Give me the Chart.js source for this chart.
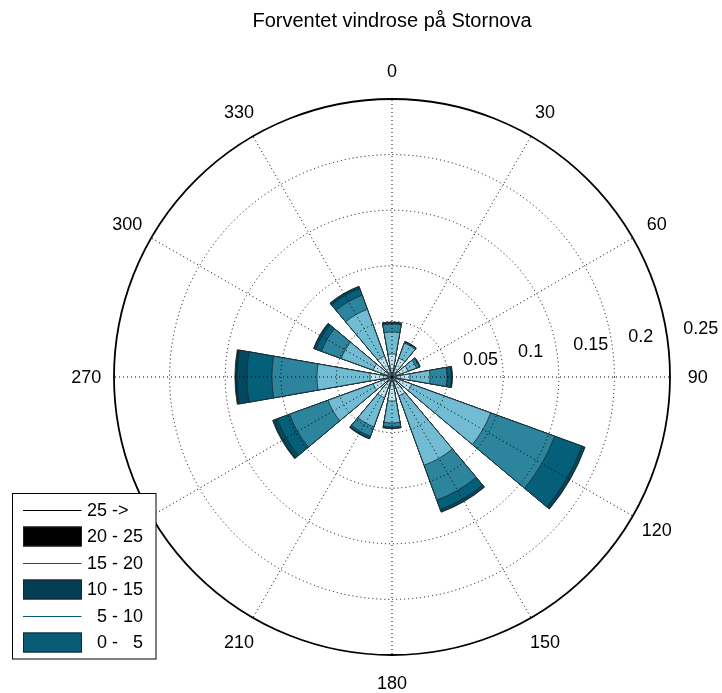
<!DOCTYPE html>
<html>
<head>
<meta charset="utf-8">
<title>Forventet vindrose på Stornova</title>
<script src="https://cdn.jsdelivr.net/npm/chart.js@4/dist/chart.umd.min.js"></script>
<style>
  html, body { margin: 0; padding: 0; background: #fff; }
  #wrap { width: 722px; height: 693px; position: relative; }
</style>
</head>
<body>
<div id="wrap"><canvas id="rose"></canvas></div>
<script>
'use strict';

// ── Data (frequency per direction, one array per speed bin) ──────────────
const directions = ['0', '30', '60', '90', '120', '150', '180', '210', '240', '270', '300', '330'];
const speedBins = ['0 - 5', '5 - 10', '10 - 15', '15 - 20', '20 - 25', '25 ->'];

const bin0to5   = [0.0207, 0.0180, 0.0153, 0.0162, 0.0189, 0.0180, 0.0216, 0.0198, 0.0180, 0.0198, 0.0180, 0.0198];
const bin5to10  = [0.0198, 0.0144, 0.0081, 0.0180, 0.0755, 0.0665, 0.0198, 0.0279, 0.0432, 0.0477, 0.0306, 0.0450];
const bin10to15 = [0.0072, 0.0009, 0.0027, 0.0153, 0.0612, 0.0333, 0.0036, 0.0090, 0.0369, 0.0405, 0.0189, 0.0135];
const bin15to20 = [0.0009, 0.0003, 0.0004, 0.0036, 0.0261, 0.0090, 0.0009, 0.0018, 0.0117, 0.0225, 0.0054, 0.0063];
const bin20to25 = [0.0004, 0.0002, 0.0002, 0.0009, 0.0027, 0.0022, 0.0003, 0.0004, 0.0036, 0.0090, 0.0018, 0.0018];
const bin25up   = [0.0004, 0.0002, 0.0003, 0.0004, 0.0004, 0.0004, 0.0002, 0.0004, 0.0009, 0.0018, 0.0004, 0.0004];

const radialTicks = [0.05, 0.1, 0.15, 0.2, 0.25];
const radialTickLabels = ['0.05', '0.1', '0.15', '0.2', '0.25'];

// legend entries, top to bottom (as in the original figure)
const legendLabels = ['25 ->', '20 - 25', '15 - 20', '10 - 15', '  5 - 10', '  0 -   5'];

// ── Styles ───────────────────────────────────────────────────────────────
const FONT = '"Liberation Sans", Arial, Helvetica, sans-serif';
const binColors = ['#bfe5ef', '#72bcd3', '#2d849d', '#055f79', '#03485e', '#022c3a'];
const legendSwatches = [
  { kind: 'line', color: '#000000' },
  { kind: 'box', color: '#000000' },
  { kind: 'line', color: '#0b5a74' },
  { kind: 'box', color: '#033e54' },
  { kind: 'line', color: '#0b5a74' },
  { kind: 'box', color: '#0a5b76' },
];
const BAR_WIDTH = 20;   // degrees
const GAP_WIDTH = 10;

// stack the bins: each dataset is the cumulative radius up to that bin
const bins = [bin0to5, bin5to10, bin10to15, bin15to20, bin20to25, bin25up];
const cumulative = bins.map((_, b) =>
  directions.map((_, d) => bins.slice(0, b + 1).reduce((s, arr) => s + arr[d], 0)));

// one leading negative slot so that bars are centred on their direction,
// then bar / gap / bar / gap ...
function expand(values) {
  const out = [0];
  values.forEach((v, i) => {
    out.push(v);
    if (i < values.length - 1) out.push(0);
  });
  return out;
}
const slotAngles = [-BAR_WIDTH / 2];
directions.forEach((_, i) => {
  slotAngles.push(BAR_WIDTH);
  if (i < directions.length - 1) slotAngles.push(GAP_WIDTH);
});
const isBar = i => i > 0 && i % 2 === 1;

const datasets = cumulative.map((vals, b) => ({
  label: speedBins[b],
  data: expand(vals),
  backgroundColor: binColors[b],
  borderColor: '#1b2a30',
  borderWidth: c => (isBar(c.dataIndex) ? 0.8 : 0),
  angle: c => slotAngles[c.dataIndex],
}));

// ── Plugins: direction labels, tick labels at ~82°, boxed legend ────────
const polarTextPlugin = {
  id: 'polarText',
  afterDraw(chart) {
    const s = chart.scales.r;
    const ctx = chart.ctx;
    ctx.save();
    ctx.font = '18px ' + FONT;
    ctx.fillStyle = '#000';
    ctx.textBaseline = 'middle';

    // direction labels centred on 1.1 × outer radius
    ctx.textAlign = 'center';
    const rl = s.getDistanceFromCenterForValue(s.max * 1.1);
    directions.forEach((lbl, i) => {
      const a = (i * 30 - 90) * Math.PI / 180;
      ctx.fillText(lbl, s.xCenter + rl * Math.cos(a), s.yCenter + rl * Math.sin(a) + 1);
    });

    // radial tick labels
    ctx.textAlign = 'left';
    const a = 8 * Math.PI / 180;
    radialTicks.forEach((v, i) => {
      const r = s.getDistanceFromCenterForValue(v);
      ctx.fillText(radialTickLabels[i], s.xCenter + r * Math.cos(a) + 16, s.yCenter - r * Math.sin(a) - 9);
    });
    ctx.restore();
  }
};

const boxLegendPlugin = {
  id: 'boxLegend',
  afterDraw(chart) {
    const ctx = chart.ctx;
    const x0 = 12.5, y0 = 493.5, w = 143.5, h = 165.5;
    ctx.save();
    ctx.fillStyle = '#fff';
    ctx.fillRect(x0, y0, w, h);
    ctx.strokeStyle = '#000';
    ctx.lineWidth = 1;
    ctx.strokeRect(x0, y0, w, h);
    ctx.font = '18px ' + FONT;
    ctx.textBaseline = 'middle';
    ctx.textAlign = 'left';
    legendLabels.forEach((txt, i) => {
      const y = 510 + i * 26.5;
      const sw = legendSwatches[i];
      if (sw.kind === 'line') {
        ctx.strokeStyle = sw.color;
        ctx.lineWidth = 1;
        ctx.beginPath();
        ctx.moveTo(23, Math.round(y) + 0.5);
        ctx.lineTo(81.5, Math.round(y) + 0.5);
        ctx.stroke();
      } else {
        ctx.fillStyle = sw.color;
        ctx.fillRect(23, y - 10, 58.5, 20);
        ctx.strokeStyle = '#222';
        ctx.lineWidth = 1;
        ctx.strokeRect(23.5, y - 9.5, 58, 19);
      }
      ctx.fillStyle = '#000';
      ctx.fillText(txt, 87, y + 1);
    });
    ctx.restore();
  }
};

// ── Chart ────────────────────────────────────────────────────────────────
new Chart(document.getElementById('rose'), {
  type: 'polarArea',
  data: { labels: directions, datasets },
  options: {
    responsive: true,
    maintainAspectRatio: false,
    animation: false,
    // chart area = the 556 px square of the polar axes, centred at (392, 377)
    layout: { padding: { left: 114, right: 52, top: 0, bottom: 38 } },
    plugins: {
      legend: { display: false },
      tooltip: { enabled: false },
      title: {
        display: true,
        text: 'Forventet vindrose på Stornova',
        color: '#000',
        font: { family: FONT, size: 20, weight: 'normal', lineHeight: 1.2 },
        padding: { top: 9, bottom: 66 }
      }
    },
    scales: {
      r: {
        min: 0,
        max: 0.25,
        startAngle: 0,
        ticks: { display: false, stepSize: 0.05 },
        grid: {
          z: 1,
          circular: true,
          color: '#000',
          lineWidth: c => (c.index === 5 ? 1.8 : 1)
        },
        border: { dash: c => (c.index === 5 ? [] : [1, 3]) },
        angleLines: {
          display: true,
          color: '#000',
          lineWidth: 1,
          borderDash: [1, 3]
        },
        pointLabels: { display: false }
      }
    }
  },
  plugins: [polarTextPlugin, boxLegendPlugin]
});
</script>
</body>
</html>
